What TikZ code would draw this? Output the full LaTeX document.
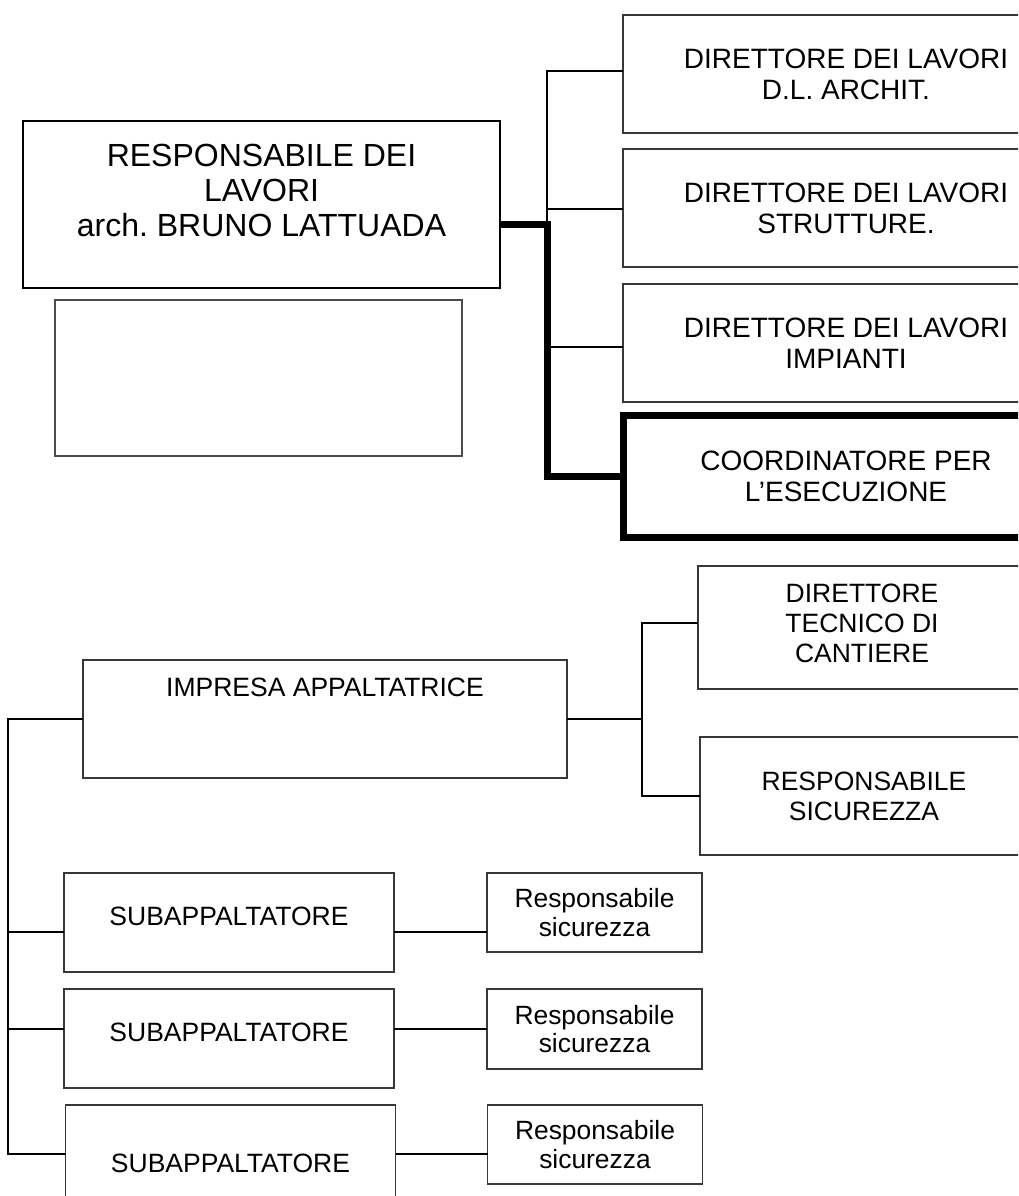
\documentclass[tikz,border=0pt]{standalone}
\usepackage{fontspec}
\setmainfont{Liberation Sans}
\frenchspacing
\begin{document}
\begin{tikzpicture}[x=1pt,y=-1pt,
  box/.style={draw=black!78, line width=1.6pt, rectangle, inner sep=0pt, outer sep=0pt, align=center,
    font=\fontsize{26.5}{30}\selectfont},
  topbox/.style={box, minimum width=446pt, minimum height=118pt, font=\fontsize{28}{31}\selectfont},
  subbox/.style={box, minimum width=330pt, minimum height=99pt, text height=52.5pt, text depth=46.5pt},
  rsbox/.style={box, minimum width=215pt, minimum height=79pt, font=\fontsize{26.4}{28.5}\selectfont},
  conn/.style={draw=black, line width=1.6pt},
  thickconn/.style={draw=black, line width=7pt, line join=miter}]
\path[use as bounding box, clip] (0,0) rectangle (1018,1196);
\fill[white] (0,0) rectangle (1018,1196);

% upper part
\node[box, draw=black, line width=2.4pt, minimum width=477pt, minimum height=167pt,
  text height=115.5pt, text depth=51.5pt, font=\fontsize{32}{35}\selectfont]
  (main) at (261.5,204.5) {RESPONSABILE DEI\\LAVORI\\arch. BRUNO LATTUADA};
\node[box, draw=black!70, line width=1.4pt, minimum width=407pt, minimum height=156pt]
  (blank) at (258.5,378) {};

\node[topbox] (b1) at (846,74)  {DIRETTORE DEI LAVORI\\D.L. ARCHIT.};
\node[topbox] (b2) at (846,208) {DIRETTORE DEI LAVORI\\STRUTTURE.};
\node[topbox] (b3) at (846,343) {DIRETTORE DEI LAVORI\\IMPIANTI};
\node[topbox, draw=black, line width=7pt, minimum height=122pt] (b4) at (846,476.5)
  {COORDINATORE PER\\L’ESECUZIONE};

\coordinate (br) at (547,224);
\coordinate (brtop) at (547,71);
\coordinate (j2) at (547,209);
\coordinate (j3) at (547,347);
\draw[conn] (b1.west |- brtop) -- (brtop) -- (br);
\draw[conn] (j2) -- (j2 -| b2.west);
\draw[conn] (j3) -- (j3 -| b3.west);
\draw[thickconn] (main.east |- br) -- (br) -- (br |- b4.west) -- (b4.west);

% lower part
\node[box, minimum width=484pt, minimum height=118pt, text height=36.5pt, text depth=81.5pt]
  (imp) at (325,719) {IMPRESA APPALTATRICE};
\node[box, minimum width=328pt, minimum height=123pt, text height=96.5pt, text depth=26.5pt]
  (dt) at (862,627.5) {DIRETTORE\\TECNICO DI\\CANTIERE};
\node[box, minimum width=328pt, minimum height=118pt] (rs) at (864,796)
  {RESPONSABILE\\SICUREZZA};

\node[subbox] (sub1) at (229,922.5) {SUBAPPALTATORE};
\node[subbox] (sub2) at (229,1038.5) {SUBAPPALTATORE};
\node[subbox, minimum height=130pt, text height=67.5pt, text depth=62.5pt]
  (sub3) at (230.5,1170) {SUBAPPALTATORE};

\node[rsbox] (rsa) at (594.5,912.5) {Responsabile\\sicurezza};
\node[rsbox, minimum height=80pt] (rsb) at (594.5,1029) {Responsabile\\sicurezza};
\node[rsbox] (rsc) at (595,1144.5) {Responsabile\\sicurezza};

\coordinate (fork) at (642,719);
\coordinate (forkTop) at (642,623);
\coordinate (forkBot) at (642,796);
\draw[conn] (imp.east) -- (fork);
\draw[conn] (dt.west |- forkTop) -- (forkTop) -- (forkBot) -- (rs.west);

\coordinate (trunkTop) at (8,719);
\coordinate (trunkBot) at (8,1154);
\coordinate (s1) at (8,932);
\coordinate (s2) at (8,1029);
\draw[conn] (imp.west) -- (trunkTop) -- (trunkBot) -- (trunkBot -| sub3.west);
\draw[conn] (s1) -- (s1 -| sub1.west);
\draw[conn] (s2) -- (s2 -| sub2.west);

\draw[conn] (sub1.east |- s1) -- (s1 -| rsa.west);
\draw[conn] (sub2.east |- s2) -- (s2 -| rsb.west);
\draw[conn] (sub3.east |- trunkBot) -- (trunkBot -| rsc.west);
\end{tikzpicture}
\end{document}
